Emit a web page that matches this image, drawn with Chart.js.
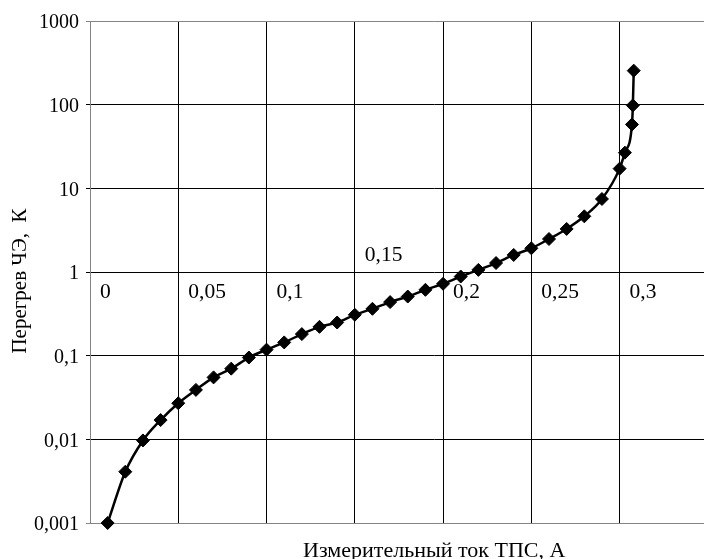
<!DOCTYPE html>
<html>
<head>
<meta charset="utf-8">
<script src="https://cdn.jsdelivr.net/npm/chart.js@4.4.0/dist/chart.umd.min.js"></script>
<style>
  html, body { margin: 0; padding: 0; background: #fff; overflow: hidden; }
  canvas { display: block; }
</style>
</head>
<body>
<canvas id="chart" width="786" height="559"></canvas>
<script>
// measured current (A) and element overheating (K)
const currentA = [
    0.01, 0.02, 0.03, 0.04, 0.05, 0.06, 0.07, 0.08, 0.09, 0.10,
    0.11, 0.12, 0.13, 0.14, 0.15, 0.16, 0.17, 0.18, 0.19, 0.20,
    0.21, 0.22, 0.23, 0.24, 0.25, 0.26, 0.27, 0.28, 0.29, 0.30,
    0.303, 0.307, 0.3075, 0.308
];
const overheatK = [
    0.001, 0.0041, 0.0097, 0.017, 0.027, 0.039, 0.055, 0.070, 0.095, 0.118,
    0.144, 0.181, 0.221, 0.249, 0.308, 0.363, 0.437, 0.509, 0.612, 0.723,
    0.883, 1.06, 1.28, 1.60, 1.92, 2.48, 3.27, 4.63, 7.46, 17.2,
    26.7, 58, 98, 255
];

const xTicks = [0, 0.05, 0.1, 0.15, 0.2, 0.25, 0.3];
const xTickLabels = ['0', '0,05', '0,1', '0,15', '0,2', '0,25', '0,3'];
const yTicks = [0.001, 0.01, 0.1, 1, 10, 100, 1000];
const yTickLabels = ['0,001', '0,01', '0,1', '1', '10', '100', '1000'];

const FONT = '"Liberation Serif", "Times New Roman", serif';
const AXIS_GRAY = '#858585';

// Excel-style x labels sitting next to the y=1 line
const insideLabels = {
    id: 'insideLabels',
    afterDatasetsDraw(chart, args, opts) {
        const { ctx, scales: { x, y }, chartArea } = chart;
        const y1 = y.getPixelForValue(1);
        ctx.save();
        ctx.font = '21.5px ' + FONT;
        ctx.fillStyle = '#000';
        ctx.textAlign = 'left';
        ctx.textBaseline = 'alphabetic';
        xTicks.forEach((v, i) => {
            const px = x.getPixelForValue(v) + 10;
            const py = opts.raised.includes(i) ? y1 - 11 : y1 + 26;
            ctx.fillText(xTickLabels[i], px, py);
        });

        // y axis title
        ctx.font = '21px ' + FONT;
        ctx.translate(20, (chartArea.top + chartArea.bottom) / 2 + 9);
        ctx.rotate(-Math.PI / 2);
        ctx.textAlign = 'center';
        ctx.textBaseline = 'middle';
        ctx.fillText('Перегрев ЧЭ,  К', 0, 0);
        ctx.restore();
    }
};

new Chart(document.getElementById('chart'), {
    type: 'line',
    data: {
        datasets: [{
            data: currentA.map((x, i) => ({ x: x, y: overheatK[i] })),
            borderColor: '#000',
            borderWidth: 2.5,
            backgroundColor: '#000',
            pointStyle: 'rectRot',
            pointRadius: 6.5,
            pointBorderWidth: 1,
            pointBorderColor: '#000',
            pointBackgroundColor: '#000',
            cubicInterpolationMode: 'monotone',
            fill: false,
            clip: false
        }]
    },
    options: {
        responsive: false,
        animation: false,
        layout: { padding: { top: 21, left: 0, right: 0, bottom: 0 } },
        plugins: {
            legend: { display: false },
            tooltip: { enabled: false },
            insideLabels: { raised: [3] }
        },
        scales: {
            x: {
                type: 'linear',
                min: 0,
                max: 0.39,
                ticks: { display: false, stepSize: 0.05 },
                grid: {
                    drawTicks: false,
                    lineWidth: 1,
                    color: (c) => (c.tick && c.tick.value === 0) ? AXIS_GRAY : '#000'
                },
                border: { color: AXIS_GRAY, width: 1 },
                title: {
                    display: true,
                    text: 'Измерительный ток ТПС, А',
                    color: '#000',
                    font: { family: FONT, size: 22, lineHeight: 1 },
                    padding: { top: 0, bottom: -3 }
                },
                afterFit: (scale) => { scale.height = 36; }
            },
            y: {
                type: 'logarithmic',
                min: 0.001,
                max: 1000,
                afterBuildTicks: (scale) => {
                    scale.ticks = yTicks.map(v => ({ value: v }));
                },
                ticks: {
                    color: '#000',
                    font: { family: FONT, size: 20 },
                    padding: 7,
                    labelOffset: 2,
                    callback: (value, index) => yTickLabels[index]
                },
                grid: {
                    tickLength: 4,
                    lineWidth: 1,
                    color: (c) => (c.tick && (c.tick.value === 1000 || c.tick.value === 0.001)) ? AXIS_GRAY : '#000'
                },
                border: { color: AXIS_GRAY, width: 1 },
                afterFit: (scale) => { scale.width = 90; }
            }
        }
    },
    plugins: [insideLabels]
});
</script>
</body>
</html>
